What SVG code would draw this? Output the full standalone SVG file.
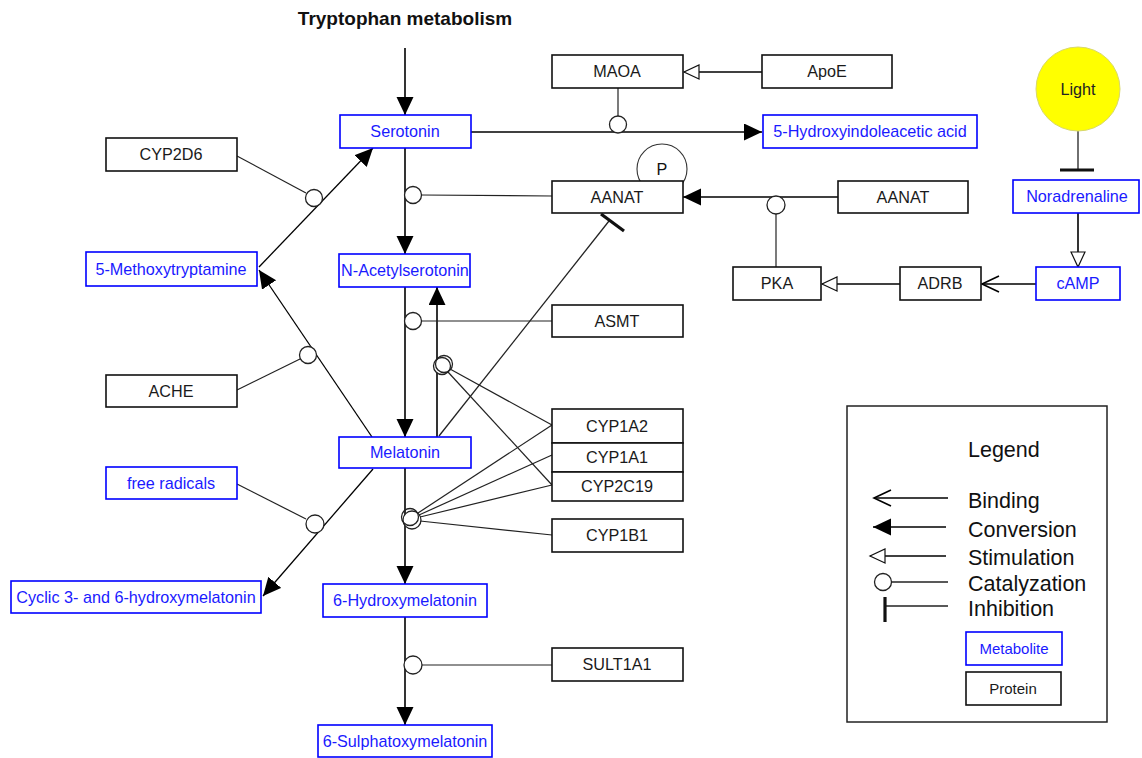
<svg xmlns="http://www.w3.org/2000/svg" width="1142" height="758" viewBox="0 0 1142 758">
<style>
text{font-family:"Liberation Sans",Arial,sans-serif;font-size:16.2px;text-anchor:middle}
.met rect{fill:#fff;stroke:#0000ff;stroke-width:1.6}
.met text{fill:#1a1aff}
.pro rect{fill:#fff;stroke:#111;stroke-width:1.6}
.pro text{fill:#1a1a1a}
.conv{stroke:#000;stroke-width:1.6;fill:none;marker-end:url(#fill)}
.stim{stroke:#000;stroke-width:1.6;fill:none;marker-end:url(#open)}
.bind{stroke:#000;stroke-width:1.6;fill:none;marker-end:url(#vee)}
.cat{stroke:#222;stroke-width:1.2;fill:none}
.cc{fill:#fff;stroke:#222;stroke-width:1.3}
.inh{stroke:#222;stroke-width:1.3;fill:none}
.bar{stroke:#111;stroke-width:3.2;fill:none}
.leg{font-size:21.5px;text-anchor:start;fill:#111}
</style>
<defs>
<marker id="fill" markerUnits="userSpaceOnUse" markerWidth="19" markerHeight="18" refX="18" refY="8.5" orient="auto"><path d="M0,0 L18,8.5 L0,17 z" fill="#000"/></marker>
<marker id="open" markerUnits="userSpaceOnUse" markerWidth="18" markerHeight="18" refX="16" refY="8" orient="auto"><path d="M1,1 L16,8 L1,15 z" fill="#fff" stroke="#111" stroke-width="1.2"/></marker>
<marker id="vee" markerUnits="userSpaceOnUse" markerWidth="20" markerHeight="20" refX="18" refY="9" orient="auto"><path d="M1,1 L18,9 L1,17" fill="none" stroke="#000" stroke-width="1.6"/></marker>
</defs>
<rect width="1142" height="758" fill="#fff"/>
<text x="405" y="25" style="font-weight:bold;font-size:19px;fill:#111">Tryptophan metabolism</text>

<g id="connectors">
<line class="conv" x1="405" y1="48" x2="405" y2="115"/>
<line class="conv" x1="471" y1="132" x2="762" y2="132"/>
<line class="stim" x1="762" y1="72" x2="684" y2="72"/>
<line class="cat" x1="618" y1="88" x2="618" y2="116"/>
<circle class="cc" cx="618" cy="124.5" r="8.5"/>
<line class="conv" x1="405" y1="148" x2="405" y2="254"/>
<line class="cat" x1="421" y1="195" x2="552" y2="196"/>
<circle class="cc" cx="413" cy="195" r="8.5"/>
<line class="conv" x1="838" y1="197" x2="683" y2="197"/>
<line class="cat" x1="776" y1="214" x2="776" y2="267"/>
<circle class="cc" cx="776" cy="205" r="9"/>
<line class="bind" x1="1036" y1="284" x2="982" y2="284"/>
<line class="stim" x1="900" y1="284" x2="822" y2="284"/>
<line class="inh" x1="1078" y1="131" x2="1078" y2="170"/>
<line class="bar" x1="1060" y1="170" x2="1094" y2="170"/>
<line class="stim" x1="1078" y1="213" x2="1078" y2="267"/>
<line class="conv" x1="259" y1="267" x2="373" y2="148" style="stroke-width:1.3"/>
<line class="cat" x1="237" y1="156" x2="306" y2="193"/>
<circle class="cc" cx="314" cy="198" r="8.5"/>
<line class="conv" x1="372" y1="437" x2="259" y2="270" style="stroke-width:1.3"/>
<line class="cat" x1="237" y1="390" x2="300" y2="359"/>
<circle class="cc" cx="308" cy="355" r="8.5"/>
<line class="conv" x1="405" y1="287" x2="405" y2="437"/>
<line class="conv" x1="437" y1="437" x2="437" y2="287"/>
<line class="cat" x1="421" y1="321" x2="552" y2="321"/>
<circle class="cc" cx="413" cy="321" r="8.5"/>
<line class="cat" x1="450" y1="369" x2="552" y2="425"/>
<line class="cat" x1="448" y1="372" x2="552" y2="485"/>
<circle class="cc" cx="442" cy="366" r="8.5"/>
<circle class="cc" cx="444" cy="364" r="8.5" style="fill:none"/>
<line class="conv" x1="405" y1="468" x2="405" y2="584"/>
<line class="cat" x1="418" y1="513" x2="552" y2="425"/>
<line class="cat" x1="419" y1="515" x2="552" y2="455"/>
<line class="cat" x1="420" y1="517" x2="552" y2="485"/>
<line class="cat" x1="420" y1="521" x2="552" y2="535"/>
<circle class="cc" cx="412" cy="520" r="9"/>
<circle class="cc" cx="410" cy="517" r="8.5" style="fill:none"/>
<line class="inh" x1="439" y1="436" x2="609" y2="221"/>
<line class="bar" x1="601" y1="214" x2="624" y2="231"/>
<line class="conv" x1="373" y1="469" x2="263" y2="596" style="stroke-width:1.3"/>
<line class="cat" x1="237" y1="484" x2="306" y2="519"/>
<circle class="cc" cx="315" cy="524" r="9"/>
<line class="conv" x1="405" y1="617" x2="405" y2="725"/>
<line class="cat" x1="422" y1="665" x2="552" y2="665"/>
<circle class="cc" cx="413" cy="665" r="9"/>
</g>

<g id="n-light"><circle cx="1078" cy="89" r="42" fill="#ffff00" stroke="#d8d86a" stroke-width="1"/><text x="1078" y="95" fill="#222">Light</text></g>
<g id="n-serotonin" class="met"><rect x="340" y="115" width="131" height="33"/><text x="405" y="137">Serotonin</text></g>
<g id="n-maoa" class="pro"><rect x="552" y="55" width="131" height="33"/><text x="617" y="77">MAOA</text></g>
<g id="n-apoe" class="pro"><rect x="762" y="55" width="130" height="33"/><text x="827" y="77">ApoE</text></g>
<g id="n-5hiaa" class="met"><rect x="763" y="115" width="214" height="33"/><text x="870" y="137">5-Hydroxyindoleacetic acid</text></g>
<g id="n-p"><circle cx="662" cy="169" r="25" fill="#fff" stroke="#333" stroke-width="1.1"/><text x="662" y="175" fill="#111">P</text></g>
<g id="n-aanat" class="pro"><rect x="552" y="181" width="131" height="32"/><text x="617" y="203">AANAT</text></g>
<g id="n-aanat2" class="pro"><rect x="838" y="181" width="130" height="32"/><text x="903" y="203">AANAT</text></g>
<g id="n-noradrenaline" class="met"><rect x="1013" y="180" width="126" height="33"/><text x="1077" y="202">Noradrenaline</text></g>
<g id="n-cyp2d6" class="pro"><rect x="106" y="138" width="131" height="33"/><text x="171" y="160">CYP2D6</text></g>
<g id="n-5mt" class="met"><rect x="86" y="252" width="171" height="34"/><text x="171" y="275">5-Methoxytryptamine</text></g>
<g id="n-nas" class="met"><rect x="339" y="254" width="131" height="33"/><text x="405" y="276">N-Acetylserotonin</text></g>
<g id="n-pka" class="pro"><rect x="733" y="267" width="88" height="33"/><text x="777" y="289">PKA</text></g>
<g id="n-adrb" class="pro"><rect x="900" y="267" width="81" height="33"/><text x="940" y="289">ADRB</text></g>
<g id="n-camp" class="met"><rect x="1036" y="267" width="84" height="33"/><text x="1078" y="289">cAMP</text></g>
<g id="n-asmt" class="pro"><rect x="552" y="305" width="131" height="32"/><text x="617" y="327">ASMT</text></g>
<g id="n-ache" class="pro"><rect x="106" y="375" width="131" height="32"/><text x="171" y="397">ACHE</text></g>
<g id="n-cyp1a2" class="pro"><rect x="552" y="409" width="131" height="34"/><text x="617" y="432">CYP1A2</text></g>
<g id="n-cyp1a1" class="pro"><rect x="552" y="443" width="131" height="29"/><text x="617" y="463">CYP1A1</text></g>
<g id="n-cyp2c19" class="pro"><rect x="552" y="472" width="131" height="29"/><text x="617" y="492">CYP2C19</text></g>
<g id="n-melatonin" class="met"><rect x="339" y="437" width="132" height="31"/><text x="405" y="458">Melatonin</text></g>
<g id="n-freeradicals" class="met"><rect x="106" y="467" width="131" height="32"/><text x="171" y="489">free radicals</text></g>
<g id="n-cyp1b1" class="pro"><rect x="552" y="519" width="131" height="33"/><text x="617" y="541">CYP1B1</text></g>
<g id="n-cyclic" class="met"><rect x="11" y="581" width="250" height="32"/><text x="136" y="603">Cyclic 3- and 6-hydroxymelatonin</text></g>
<g id="n-6hm" class="met"><rect x="323" y="584" width="164" height="33"/><text x="405" y="606">6-Hydroxymelatonin</text></g>
<g id="n-sult1a1" class="pro"><rect x="552" y="648" width="131" height="33"/><text x="617" y="670">SULT1A1</text></g>
<g id="n-6sm" class="met"><rect x="318" y="725" width="174" height="32"/><text x="405" y="747">6-Sulphatoxymelatonin</text></g>

<g id="legend">
<rect x="847" y="406" width="260" height="316" fill="none" stroke="#222" stroke-width="1.5"/>
<text class="leg" x="968" y="457">Legend</text>
<line class="bind" x1="948" y1="498" x2="874" y2="498" style="stroke-width:1.4"/>
<text class="leg" x="968" y="508">Binding</text>
<line class="conv" x1="946" y1="527" x2="873" y2="527"/>
<text class="leg" x="968" y="537">Conversion</text>
<line class="stim" x1="946" y1="556" x2="870" y2="556"/>
<text class="leg" x="968" y="565">Stimulation</text>
<line class="cat" x1="891" y1="582" x2="948" y2="582" style="stroke-width:1.5"/>
<circle class="cc" cx="883" cy="582" r="8.5"/>
<text class="leg" x="968" y="591">Catalyzation</text>
<line class="inh" x1="885" y1="606" x2="948" y2="606" style="stroke-width:1.5"/>
<line class="bar" x1="885" y1="597" x2="885" y2="622"/>
<text class="leg" x="968" y="616">Inhibition</text>
<g class="met"><rect x="966" y="632" width="96" height="33"/><text x="1014" y="654" style="font-size:15px">Metabolite</text></g>
<g class="pro"><rect x="966" y="672" width="95" height="33"/><text x="1013" y="694" style="font-size:15px">Protein</text></g>
</g>
</svg>
